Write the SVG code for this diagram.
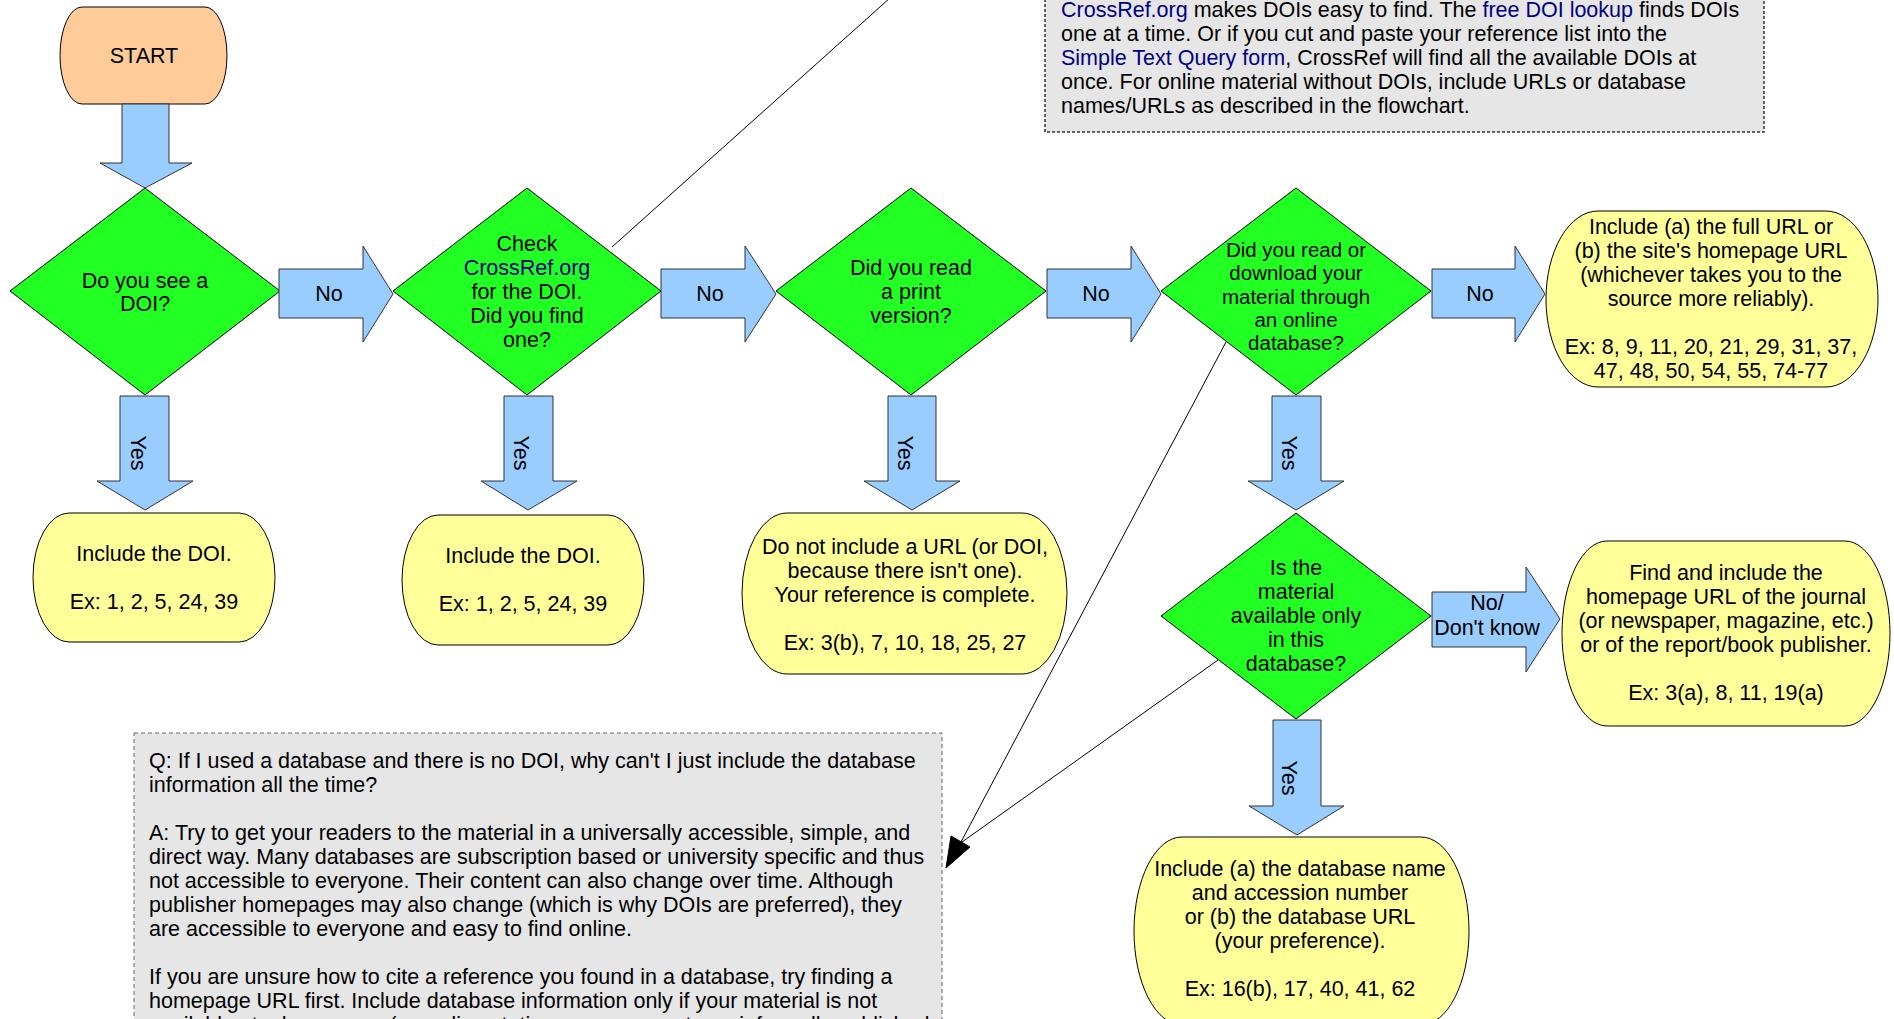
<svg xmlns="http://www.w3.org/2000/svg" width="1894" height="1019" viewBox="0 0 1894 1019">
<style>
text{font-family:"Liberation Sans",Arial,sans-serif;font-size:21.5px;fill:#000}
.c{text-anchor:middle}
.s20{font-size:20.5px}
.lnk{fill:#000080}
.dia{fill:#22ff22;stroke:#000;stroke-width:1}
.arr{fill:#99ccff;stroke:#333;stroke-width:1}
.term{fill:#ffff99;stroke:#000;stroke-width:1}
.note{fill:#e6e6e6;stroke:#333;stroke-width:1.5;stroke-dasharray:3 2}
.faq{fill:#e6e6e6;stroke:#666;stroke-width:1;stroke-dasharray:4 3}
.con{fill:none;stroke:#000;stroke-width:1}
</style>
<rect width="1894" height="1019" fill="#fff"/>

<g id="note-crossref">
<rect class="note" x="1045" y="-10" width="719" height="142"/>
<text x="1061" y="17"><tspan class="lnk">CrossRef.org</tspan> makes DOIs easy to find. The <tspan class="lnk">free DOI lookup</tspan> finds DOIs</text>
<text x="1061" y="41">one at a time. Or if you cut and paste your reference list into the</text>
<text x="1061" y="65"><tspan class="lnk">Simple Text Query form</tspan>, CrossRef will find all the available DOIs at</text>
<text x="1061" y="89">once. For online material without DOIs, include URLs or database</text>
<text x="1061" y="113">names/URLs as described in the flowchart.</text>
</g>

<g id="note-faq">
<rect class="faq" x="134" y="733" width="808" height="310"/>
<text x="149" y="768">Q: If I used a database and there is no DOI, why can't I just include the database</text>
<text x="149" y="792">information all the time?</text>
<text x="149" y="840">A: Try to get your readers to the material in a universally accessible, simple, and</text>
<text x="149" y="864">direct way. Many databases are subscription based or university specific and thus</text>
<text x="149" y="888">not accessible to everyone. Their content can also change over time. Although</text>
<text x="149" y="912">publisher homepages may also change (which is why DOIs are preferred), they</text>
<text x="149" y="936">are accessible to everyone and easy to find online.</text>
<text x="149" y="984">If you are unsure how to cite a reference you found in a database, try finding a</text>
<text x="149" y="1008">homepage URL first. Include database information only if your material is not</text>
<text x="149" y="1032">available at a homepage (e.g., dissertations, some reports, or informally published</text>
</g>

<g id="connectors">
<line class="con" x1="612" y1="247" x2="900" y2="-11"/>
<line class="con" x1="1226" y1="342" x2="961" y2="842"/>
<line class="con" x1="1218" y1="660" x2="962" y2="842"/>
<polygon points="946,868 951,836 970,847" fill="#000" stroke="#000" stroke-width="1"/>
</g>

<g id="start">
<path class="term" style="fill:#ffcc99" d="M82,7 L205,7 A22 48.5 0 0 1 205,104 L82,104 A22 48.5 0 0 1 82,7 Z"/>
<text class="c" x="144" y="63">START</text>
</g>

<g id="arrow-start">
<polygon class="arr" points="122,104 169,104 169,163 192,163 145,188 100,163 122,163"/>
</g>

<g id="q-doi">
<polygon class="dia" points="145,188 280,291 145,395 10,291"/>
<text class="c" x="145" y="288">Do you see a</text>
<text class="c" x="145" y="311">DOI?</text>
</g>

<g id="no-1">
<polygon class="arr" points="279,269 363,269 363,246 393,294 363,342 363,318 279,318"/>
<text class="c" x="329" y="301">No</text>
</g>

<g id="q-crossref">
<polygon class="dia" points="527,188 661,291 527,395 393,291"/>
<text class="c" x="527" y="251">Check</text>
<text class="c lnk" x="527" y="275">CrossRef.org</text>
<text class="c" x="527" y="299">for the DOI.</text>
<text class="c" x="527" y="323">Did you find</text>
<text class="c" x="527" y="347">one?</text>
</g>

<g id="no-2">
<polygon class="arr" points="661,269 745,269 745,246 776,294 745,342 745,318 661,318"/>
<text class="c" x="710" y="301">No</text>
</g>

<g id="q-print">
<polygon class="dia" points="911,188 1046,291 911,395 776,291"/>
<text class="c" x="911" y="275">Did you read</text>
<text class="c" x="911" y="299">a print</text>
<text class="c" x="911" y="323">version?</text>
</g>

<g id="no-3">
<polygon class="arr" points="1047,269 1131,269 1131,246 1161,294 1131,342 1131,318 1047,318"/>
<text class="c" x="1096" y="301">No</text>
</g>

<g id="q-database">
<polygon class="dia" points="1296,188 1431,291 1296,395 1161,291"/>
<text class="c s20" x="1296" y="257">Did you read or</text>
<text class="c s20" x="1296" y="280">download your</text>
<text class="c s20" x="1296" y="304">material through</text>
<text class="c s20" x="1296" y="327">an online</text>
<text class="c s20" x="1296" y="350">database?</text>
</g>

<g id="no-4">
<polygon class="arr" points="1432,269 1515,269 1515,246 1545,294 1515,342 1515,318 1432,318"/>
<text class="c" x="1480" y="301">No</text>
</g>

<g id="r-url">
<path class="term" d="M1598,211 L1826,211 A52 88 0 0 1 1826,387 L1598,387 A52 88 0 0 1 1598,211 Z"/>
<text class="c" x="1711" y="234">Include (a) the full URL or</text>
<text class="c" x="1711" y="258">(b) the site's homepage URL</text>
<text class="c" x="1711" y="282">(whichever takes you to the</text>
<text class="c" x="1711" y="306">source more reliably).</text>
<text class="c" x="1711" y="354">Ex: 8, 9, 11, 20, 21, 29, 31, 37,</text>
<text class="c" x="1711" y="378">47, 48, 50, 54, 55, 74-77</text>
</g>

<g id="yes-1">
<polygon class="arr" points="120,396 169,396 169,481 193,481 145,510 97,481 120,481"/>
<text class="c" transform="translate(138,453) rotate(90)" x="0" y="7">Yes</text>
</g>

<g id="r-doi-1">
<path class="term" d="M69,513 L239,513 A36 64.5 0 0 1 239,642 L69,642 A36 64.5 0 0 1 69,513 Z"/>
<text class="c" x="154" y="561">Include the DOI.</text>
<text class="c" x="154" y="609">Ex: 1, 2, 5, 24, 39</text>
</g>

<g id="yes-2">
<polygon class="arr" points="504,396 553,396 553,481 577,481 528,510 481,481 504,481"/>
<text class="c" transform="translate(521,453) rotate(90)" x="0" y="7">Yes</text>
</g>

<g id="r-doi-2">
<path class="term" d="M438,515 L608,515 A36 65 0 0 1 608,645 L438,645 A36 65 0 0 1 438,515 Z"/>
<text class="c" x="523" y="563">Include the DOI.</text>
<text class="c" x="523" y="611">Ex: 1, 2, 5, 24, 39</text>
</g>

<g id="yes-3">
<polygon class="arr" points="888,396 936,396 936,481 960,481 912,510 864,481 888,481"/>
<text class="c" transform="translate(905,453) rotate(90)" x="0" y="7">Yes</text>
</g>

<g id="r-print">
<path class="term" d="M787,513 L1022,513 A45 80.5 0 0 1 1022,674 L787,674 A45 80.5 0 0 1 787,513 Z"/>
<text class="c" x="905" y="554">Do not include a URL (or DOI,</text>
<text class="c" x="905" y="578">because there isn't one).</text>
<text class="c" x="905" y="602">Your reference is complete.</text>
<text class="c" x="905" y="650">Ex: 3(b), 7, 10, 18, 25, 27</text>
</g>

<g id="yes-4">
<polygon class="arr" points="1272,396 1321,396 1321,481 1344,481 1296,510 1248,481 1272,481"/>
<text class="c" transform="translate(1289,453) rotate(90)" x="0" y="7">Yes</text>
</g>

<g id="q-only">
<polygon class="dia" points="1296,513 1431,616 1296,719 1161,616"/>
<text class="c" x="1296" y="575">Is the</text>
<text class="c" x="1296" y="599">material</text>
<text class="c" x="1296" y="623">available only</text>
<text class="c" x="1296" y="647">in this</text>
<text class="c" x="1296" y="671">database?</text>
</g>

<g id="no-5">
<polygon class="arr" points="1432,592 1526,592 1526,567 1560,619 1526,672 1526,647 1432,647"/>
<text class="c" x="1487" y="610">No/</text>
<text class="c" x="1487" y="635">Don't know</text>
</g>

<g id="r-homepage">
<path class="term" d="M1607,541 L1845,541 A45 92.5 0 0 1 1845,726 L1607,726 A45 92.5 0 0 1 1607,541 Z"/>
<text class="c" x="1726" y="580">Find and include the</text>
<text class="c" x="1726" y="604">homepage URL of the journal</text>
<text class="c" x="1726" y="628">(or newspaper, magazine, etc.)</text>
<text class="c" x="1726" y="652">or of the report/book publisher.</text>
<text class="c" x="1726" y="700">Ex: 3(a), 8, 11, 19(a)</text>
</g>

<g id="yes-5">
<polygon class="arr" points="1273,720 1321,720 1321,806 1344,806 1297,835 1249,806 1273,806"/>
<text class="c" transform="translate(1289,778) rotate(90)" x="0" y="7">Yes</text>
</g>

<g id="r-dbname">
<path class="term" d="M1182,837 L1421,837 A48 94 0 0 1 1421,1025 L1182,1025 A48 94 0 0 1 1182,837 Z"/>
<text class="c" x="1300" y="876">Include (a) the database name</text>
<text class="c" x="1300" y="900">and accession number</text>
<text class="c" x="1300" y="924">or (b) the database URL</text>
<text class="c" x="1300" y="948">(your preference).</text>
<text class="c" x="1300" y="996">Ex: 16(b), 17, 40, 41, 62</text>
</g>
</svg>
